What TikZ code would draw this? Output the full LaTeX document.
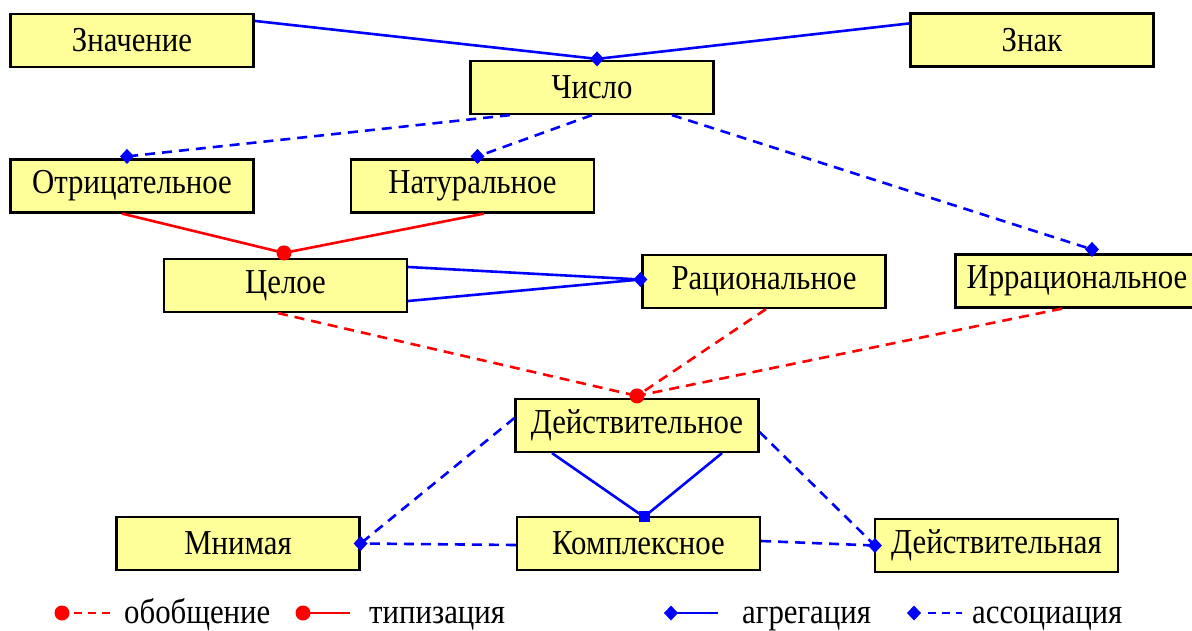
\documentclass[tikz,border=0pt]{standalone}
\usepackage{fontspec}
\setmainfont[FakeStretch=0.88]{Liberation Serif}
\usetikzlibrary{calc}
\definecolor{boxfill}{HTML}{FFFF99}
\definecolor{lblue}{HTML}{0000FF}
\definecolor{lred}{HTML}{FF0000}
\begin{document}
\begin{tikzpicture}[x=1pt,y=-1pt,
  box/.style={draw=black,line width=2.2pt,fill=boxfill,minimum width=243pt,minimum height=53pt,inner sep=0pt,font=\fontsize{35}{38}\selectfont},
  lbl/.style={anchor=base west,inner sep=0pt,font=\fontsize{35}{38}\selectfont},
  aggline/.style={draw=lblue,line width=2.6pt},
  assocline/.style={aggline,dash pattern=on 10pt off 7pt},
  typline/.style={draw=lred,line width=2.6pt},
  genline/.style={typline,dash pattern=on 10pt off 7pt},
  dmd/.pic={\fill[lblue] (0,-7.5) -- (7,0) -- (0,7.5) -- (-7,0) -- cycle;},
  sqr/.pic={\fill[lblue] (-5.5,-5.5) rectangle (5.5,5.5);},
  dot/.pic={\fill[lred] (0,0) circle (7.5pt);}
]
\useasboundingbox (0,0) rectangle (1192,630);
% boxes
\node[box] (znach) at (132,40.5) {Значение};
\node[box] (znak) at (1032,40) {Знак};
\node[box] (chislo) at (592,87.5) {Число};
\node[box] (otr) at (132,186) {Отрицательное};
\node[box] (nat) at (472.5,186) {Натуральное};
\node[box] (cel) at (285.5,285.5) {Целое};
\node[box] (rac) at (764,281.5) {Рациональное};
\node[box] (irr) at (1077,281) {Иррациональное};
\node[box] (deis) at (637,425.5) {Действительное};
\node[box] (mnim) at (238,543.5) {Мнимая};
\node[box] (kompl) at (638.5,543.5) {Комплексное};
\node[box] (deia) at (996.5,545.5) {Действительная};
% junction points
\coordinate (jchislo) at ($(chislo.north)+(5,-1)$);
\coordinate (jotr) at ($(otr.north)+(-5,-2)$);
\coordinate (jnat) at ($(nat.north)+(5,-2)$);
\coordinate (jirr) at ($(irr.north)+(15,-4)$);
\coordinate (jcel) at ($(cel.north)+(-1.5,-5)$);
\coordinate (jrac) at ($(rac.west)+(-1,-2)$);
\coordinate (jdeis) at ($(deis.north)+(0,-2)$);
\coordinate (jmnim) at ($(mnim.east)+(0,0)$);
\coordinate (jdeia) at ($(deia.west)+(1,0)$);
\coordinate (jkompl) at ($(kompl.north)+(5.5,1)$);
% connectors
\draw[aggline] ($(znach.north east)+(0,8)$) -- (jchislo);
\draw[aggline] ($(znak.north west)+(0,11)$) -- (jchislo);
\draw[assocline] ($(chislo.south)+(-82,0)$) -- (jotr);
\draw[assocline] ($(chislo.south)+(0,0)$) -- (jnat);
\draw[assocline] ($(chislo.south)+(80,0)$) -- (jirr);
\draw[typline] ($(otr.south)+(-10,0)$) -- (jcel);
\draw[typline] ($(nat.south)+(11.5,0)$) -- (jcel);
\draw[aggline] ($(cel.east)+(0,-18.5)$) -- (jrac);
\draw[aggline] ($(cel.east)+(0,15.5)$) -- (jrac);
\draw[genline] ($(cel.south)+(-7.5,0)$) -- (jdeis);
\draw[genline] ($(rac.south)+(2,0)$) -- (jdeis);
\draw[genline] ($(irr.south)+(-15,0)$) -- (jdeis);
\draw[assocline] ($(deis.west)+(0,-7.5)$) -- (jmnim);
\draw[assocline] ($(kompl.west)+(0,1.5)$) -- (jmnim);
\draw[assocline] ($(deis.east)+(0,6.5)$) -- (jdeia);
\draw[assocline] ($(kompl.east)+(0,-2.5)$) -- (jdeia);
\draw[aggline] ($(deis.south)+(-85,0)$) -- (jkompl);
\draw[aggline] ($(deis.south)+(85,0)$) -- (jkompl);
% markers
\pic at (jchislo) {dmd};
\pic at (jotr) {dmd};
\pic at (jnat) {dmd};
\pic at (jirr) {dmd};
\pic at (jrac) {dmd};
\pic at (jmnim) {dmd};
\pic at (jdeia) {dmd};
\pic at (jcel) {dot};
\pic at (jdeis) {dot};
\pic at (jkompl) {sqr};
% legend
\coordinate (l1a) at (62,613);
\coordinate (l1b) at (112,613);
\draw[genline,dash pattern=on 8pt off 6pt] ($(l1a)+(12,0)$) -- (l1b);
\pic at (l1a) {dot};
\node[lbl] (t1) at (124,623) {обобщение};
\coordinate (l2a) at (303,613);
\coordinate (l2b) at (350,613);
\draw[typline] (l2a) -- (l2b);
\pic at (l2a) {dot};
\node[lbl] (t2) at (369,623) {типизация};
\coordinate (l3a) at (671,613);
\coordinate (l3b) at (718,613);
\draw[aggline] (l3a) -- (l3b);
\pic at (l3a) {dmd};
\node[lbl] (t3) at (742,623) {агрегация};
\coordinate (l4a) at (914,613);
\coordinate (l4b) at (962,613);
\draw[assocline,dash pattern=on 8pt off 6pt] ($(l4a)+(14,0)$) -- (l4b);
\pic at (l4a) {dmd};
\node[lbl] (t4) at (972,623) {ассоциация};
\end{tikzpicture}
\end{document}
